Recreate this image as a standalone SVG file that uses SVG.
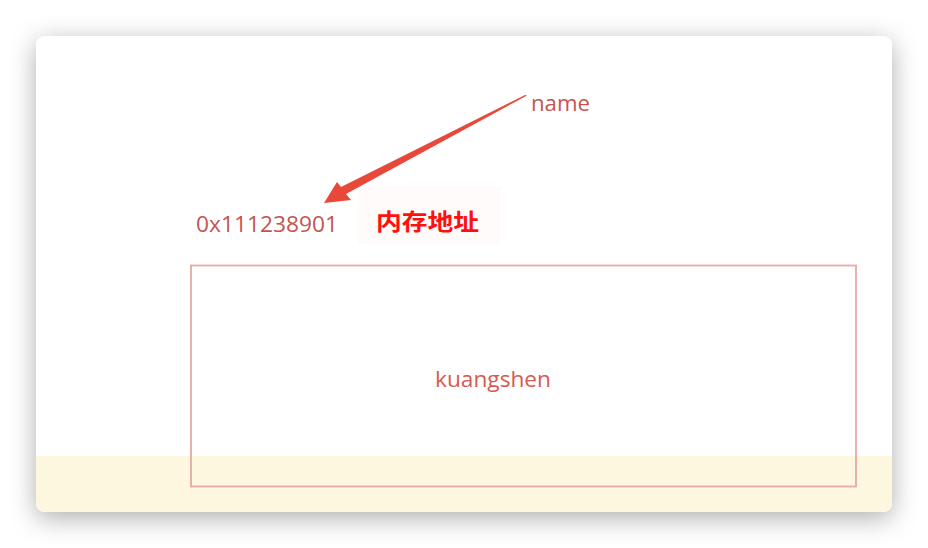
<svg xmlns="http://www.w3.org/2000/svg" width="928" height="548" viewBox="0 0 928 548">
<defs>
<filter id="sh" x="-10%" y="-10%" width="120%" height="130%">
<feDropShadow dx="0" dy="6" stdDeviation="13" flood-color="#000" flood-opacity="0.32"/>
</filter>
<clipPath id="cardclip"><rect x="36" y="36" width="856" height="476" rx="9"/></clipPath>
<style>
.lbl{font-family:"Segoe UI","Open Sans","Noto Sans",sans-serif;fill:#c4544f;}
.cn{font-family:"Noto Sans CJK SC",sans-serif;font-weight:bold;fill:#ff1010;font-size:23px;}
</style>
</defs>
<rect width="928" height="548" fill="#ffffff"/>
<g id="card">
<rect x="36" y="36" width="856" height="476" rx="9" fill="#ffffff" filter="url(#sh)"/>
<g clip-path="url(#cardclip)">
<rect x="36" y="456" width="856" height="56" fill="#fdf7e0"/>
</g>
</g>
<g id="name-node">
<text class="lbl" x="531" y="111" font-size="21" textLength="59" lengthAdjust="spacingAndGlyphs">name</text>
</g>
<g id="address-node">
<text class="lbl" x="196" y="232" font-size="21" textLength="142" lengthAdjust="spacingAndGlyphs">0x111238901</text>
</g>
<g id="note-node">
<rect x="358" y="186" width="143" height="58" fill="#fffbfb"/>
<text class="cn" x="376" y="230" textLength="103" lengthAdjust="spacingAndGlyphs">内存地址</text>
</g>
<g id="value-node">
<rect x="191" y="265.5" width="665" height="221" fill="none" stroke="#e3aaa6" stroke-width="1.8"/>
<text class="lbl" x="493" y="387" font-size="21" text-anchor="middle" textLength="116" lengthAdjust="spacingAndGlyphs" style="fill:#d9584f">kuangshen</text>
</g>
<g id="connectors">
<path d="M527,95.5 L346,194 L351,200 L324,203 L337,182 L341,187 L525,95 Z" fill="#e8473a"/>
</g>
</svg>
